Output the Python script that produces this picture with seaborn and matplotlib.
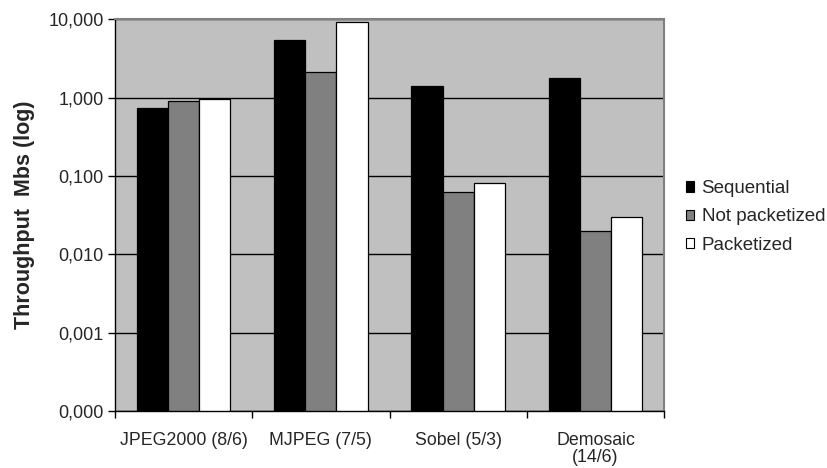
import pandas as pd
import matplotlib.pyplot as plt
import seaborn as sns
from matplotlib.ticker import FuncFormatter, FixedLocator, NullFormatter

# --- data ---
apps = ['JPEG2000 (8/6)', 'MJPEG (7/5)', 'Sobel (5/3)', 'Demosaic\n(14/6)']
series = ['Sequential', 'Not packetized', 'Packetized']
sequential = [0.73, 5.5, 1.41, 1.80]
not_packetized = [0.89, 2.13, 0.063, 0.020]
packetized = [0.95, 9.2, 0.080, 0.030]
y_ticks = [0.0001, 0.001, 0.01, 0.1, 1, 10]

df = pd.DataFrame({
    'App': apps * 3,
    'Series': [s for s in series for _ in apps],
    'Value': sequential + not_packetized + packetized,
})

sns.set_theme(style="white")
plt.rcParams['font.family'] = ['Liberation Sans', 'DejaVu Sans']

fig, ax = plt.subplots(figsize=(8.27, 4.68), dpi=100)
fig.subplots_adjust(left=0.139, right=0.803, top=0.959, bottom=0.122)

palette = {'Sequential': '#000000', 'Not packetized': '#808080', 'Packetized': '#ffffff'}
sns.barplot(data=df, x='App', y='Value', hue='Series', palette=palette,
            width=0.68, edgecolor='black', linewidth=0.9, saturation=1, ax=ax)

ax.set_yscale('log')
ax.set_ylim(1e-4, 10)
ax.set_xlim(-0.5, 3.5)
ax.set_facecolor('#c0c0c0')

# y axis
ax.yaxis.set_major_locator(FixedLocator(y_ticks))
ax.yaxis.set_minor_formatter(NullFormatter())
ax.yaxis.set_minor_locator(FixedLocator([]))
ax.yaxis.set_major_formatter(FuncFormatter(lambda v, p: f"{v:.3f}".replace('.', ',')))
ax.grid(axis='y', which='major', color='black', linewidth=1)
ax.set_axisbelow(True)
ax.tick_params(axis='y', direction='out', length=5, width=1, color='black',
               labelsize=13, pad=3, left=True)
ax.set_ylabel('Throughput  Mbs (log)', fontsize=15.5, fontweight='bold')
ax.yaxis.set_label_coords(-0.146, 0.5)

# x axis: ticks at category boundaries, labels at centers
ax.set_xticks([-0.5, 0.5, 1.5, 2.5, 3.5])
ax.set_xticklabels([])
ax.set_xticks(range(len(apps)), minor=True)
ax.set_xticklabels(apps, minor=True, fontsize=12.75, linespacing=1.0)
ax.tick_params(axis='x', which='major', direction='out', length=5, width=1,
               color='black', bottom=True)
ax.tick_params(axis='x', which='minor', length=0, pad=15)
ax.set_xlabel('')

for side in ['left', 'bottom']:
    ax.spines[side].set_color('black')
    ax.spines[side].set_linewidth(1)
for side in ['top', 'right']:
    ax.spines[side].set_color('#808080')
    ax.spines[side].set_linewidth(1.5)

leg = ax.legend(loc='upper left', bbox_to_anchor=(0.829, 0.615), bbox_transform=fig.transFigure,
                frameon=False, fontsize=13.5, handlelength=0.45, handleheight=0.45,
                handletextpad=0.4, labelspacing=0.6, borderaxespad=0, borderpad=0)
for h in leg.legend_handles:
    h.set_edgecolor('black')
    h.set_linewidth(0.8)

plt.savefig('out.png', dpi=100)
